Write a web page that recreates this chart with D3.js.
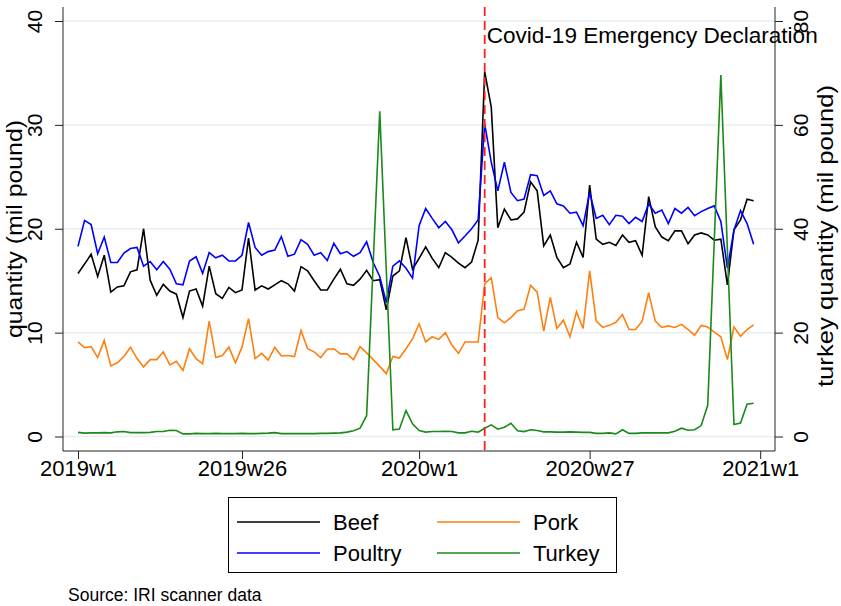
<!DOCTYPE html>
<html><head><meta charset="utf-8">
<script src="https://cdn.jsdelivr.net/npm/d3@7"></script>
<style>
body{margin:0;background:#fff;}
text{font-family:"Liberation Sans",Arial,sans-serif;fill:#000;}
</style>
</head><body>
<svg id="c" width="841" height="606"></svg>
<script>
// ---- data ----
const weekLabels = d3.range(104).map(i => i < 52 ? "2019w" + (i + 1) : "2020w" + (i - 51));
const xTickLabels = ["2019w1", "2019w26", "2020w1", "2020w27", "2021w1"];
const leftTicks = [0, 10, 20, 30, 40];
const rightTicks = [0, 20, 40, 60, 80];
const covidWeek = "2020w11";
const seriesNames = ["Beef", "Pork", "Poultry", "Turkey"];

const beef = [15.7,16.6,17.55,15.4,17.45,13.9,14.4,14.5,15.85,16.05,20.0,15.05,13.6,14.65,14.0,13.7,11.45,14.0,14.2,12.55,
16.4,13.75,13.3,14.35,13.85,14.1,19.1,14.1,14.5,14.2,14.6,15.0,14.7,14.0,16.35,15.95,15.0,14.1,14.1,15.15,
16.1,14.7,14.55,15.15,16.0,15.0,15.1,12.2,15.45,15.95,19.15,16.1,17.15,18.25,17.15,16.25,17.7,17.25,16.7,16.25,
16.8,18.9,35.1,31.7,20.1,21.9,20.85,20.95,21.6,24.5,23.65,18.35,19.4,17.25,16.25,16.6,18.7,17.25,24.2,19.0,
18.5,18.7,18.4,19.4,18.7,18.85,17.45,23.1,20.2,19.2,18.85,19.8,19.8,18.55,19.4,19.6,19.4,18.9,19.0,14.6,
19.9,20.85,22.85,22.7];

const poultry = [18.3,20.8,20.4,17.6,19.2,16.75,16.75,17.65,18.1,18.2,16.4,16.85,16.05,16.85,16.1,14.7,14.6,16.9,17.3,15.7,
17.7,17.2,17.45,16.9,16.9,17.45,20.6,18.2,17.45,17.8,17.95,19.25,17.35,17.55,18.95,18.5,17.45,17.7,16.95,18.6,
17.6,17.8,17.35,17.7,18.75,16.75,15.4,12.9,16.4,16.9,16.2,15.25,20.3,21.95,21.0,20.1,20.7,19.9,18.65,19.3,
20.0,20.85,30.1,26.4,23.65,26.4,23.5,22.7,22.85,25.2,25.1,23.2,23.65,22.4,22.2,21.5,21.6,20.3,23.5,21.0,
21.3,20.4,21.3,21.2,20.5,21.1,20.7,22.4,21.5,21.8,20.5,21.95,21.5,22.05,21.25,21.65,21.95,22.2,20.7,16.2,
19.85,21.75,20.5,18.5];

const pork = [9.1,8.55,8.65,7.6,9.25,6.8,7.1,7.7,8.6,7.5,6.7,7.4,7.4,8.15,6.9,7.25,6.35,8.45,7.5,7.0,
11.1,7.6,7.8,8.6,7.1,8.6,11.35,7.5,8.0,7.35,8.6,7.75,7.8,7.7,10.2,8.45,8.15,7.6,8.4,8.45,
7.95,7.95,7.4,8.65,8.05,7.4,6.75,6.05,7.7,7.55,8.45,9.4,10.85,9.1,9.6,9.35,10.0,8.8,8.0,9.1,
9.1,9.1,14.7,15.3,11.45,10.95,11.45,12.1,12.25,14.55,13.9,10.15,13.4,10.4,11.2,9.6,12.0,10.4,15.95,11.1,
10.5,10.7,11.0,11.75,10.3,10.3,11.1,13.85,11.1,10.5,10.65,10.5,10.8,10.3,9.75,10.7,10.55,10.05,9.6,7.4,
10.55,9.65,10.3,10.75];

// turkey (right axis); null = week not reported (line connects across)
const turkey = [0.8,0.65,0.7,0.7,0.75,0.7,0.9,0.95,0.75,0.75,0.75,0.8,0.95,0.95,1.2,1.15,0.5,0.5,0.6,0.55,
0.55,0.6,0.55,0.55,0.55,0.6,0.55,0.55,0.6,0.65,0.75,0.55,0.55,0.55,0.55,0.55,0.55,0.6,0.6,0.65,
0.7,0.85,1.1,1.6,4.0,null,62.6,null,1.3,1.45,5.0,2.45,1.15,0.85,0.95,0.95,1.0,0.95,0.7,0.7,
1.0,0.85,1.6,2.25,1.4,1.8,2.55,1.1,0.95,1.3,1.15,0.9,0.9,0.85,0.85,0.9,0.85,0.8,0.8,0.6,
0.6,0.7,0.5,1.3,0.6,0.6,0.7,0.7,0.7,0.7,0.7,1.0,1.6,1.2,1.3,2.1,6.0,null,69.6,null,
2.3,2.6,6.2,6.4];

const seriesColors = {Beef: "#000000", Pork: "#ff7f0e", Poultry: "#0000ff", Turkey: "#1a8a1a"};

// ---- helpers ----
function weekIndex(lbl) {
  const m = lbl.match(/(\d+)w(\d+)/);
  return (+m[1] - 2019) * 52 + (+m[2] - 1);
}

const svg = d3.select("#c");
const L = 63, R = 775, T = 7, B = 451;

const x = d3.scaleLinear().domain([0, 104]).range([78, 760.2]);
const yL = d3.scaleLinear().domain([0, 40]).range([436.5, 21]);
const yR = d3.scaleLinear().domain([0, 80]).range([436.5, 21]);

// gridlines
svg.append("g").selectAll("line").data(leftTicks).join("line")
  .attr("x1", L).attr("x2", R)
  .attr("y1", d => yL(d)).attr("y2", d => yL(d))
  .attr("stroke", "#e5eef1").attr("stroke-width", 1.5);

// series lines
const dataMap = {Beef: beef, Pork: pork, Poultry: poultry, Turkey: turkey};
const drawOrder = ["Beef", "Poultry", "Pork", "Turkey"];
drawOrder.forEach(name => {
  const ys = name === "Turkey" ? yR : yL;
  const pts = dataMap[name].map((v, i) => [i, v]).filter(p => p[1] !== null);
  svg.append("path")
    .attr("d", d3.line().x(p => x(p[0])).y(p => ys(p[1]))(pts))
    .attr("fill", "none").attr("stroke", seriesColors[name])
    .attr("stroke-width", 1.6).attr("stroke-linejoin", "miter");
});

// covid line
const cx = x(weekIndex(covidWeek));
svg.append("line").attr("x1", cx).attr("x2", cx).attr("y1", T).attr("y2", B)
  .attr("stroke", "#ff2020").attr("stroke-width", 1.8).attr("stroke-dasharray", "9,5");
svg.append("text").attr("x", cx + 2).attr("y", 43).style("font-size", "21.5px")
  .attr("textLength", 331).attr("lengthAdjust", "spacingAndGlyphs")
  .text("Covid-19 Emergency Declaration");

// axes
const axisStyle = g => { g.select(".domain").remove(); g.selectAll("line").attr("stroke", "#222"); };

const gl = svg.append("g").attr("transform", `translate(${L},0)`)
  .call(d3.axisLeft(yL).tickValues(leftTicks).tickSize(8).tickFormat(d3.format("d")));
axisStyle(gl);
gl.selectAll("text").attr("transform", "rotate(-90)").attr("x", 0).attr("y", -21)
  .attr("dy", 0).attr("text-anchor", "middle").style("font-size", "21px");

const gr = svg.append("g").attr("transform", `translate(${R},0)`)
  .call(d3.axisRight(yR).tickValues(rightTicks).tickSize(8).tickFormat(d3.format("d")));
axisStyle(gr);
gr.selectAll("text").attr("transform", "rotate(-90)").attr("x", 0).attr("y", 33)
  .attr("dy", 0).attr("text-anchor", "middle").style("font-size", "21px");

const gb = svg.append("g").attr("transform", `translate(0,${B})`)
  .call(d3.axisBottom(x).tickValues(xTickLabels.map(weekIndex)).tickSize(8)
    .tickFormat((d, i) => xTickLabels[i]));
axisStyle(gb);
gb.selectAll("text").attr("y", 0).attr("dy", 25).style("font-size", "22px");

// axis lines
svg.append("line").attr("x1", L).attr("x2", L).attr("y1", T).attr("y2", B).attr("stroke", "#222");
svg.append("line").attr("x1", R).attr("x2", R).attr("y1", T).attr("y2", B).attr("stroke", "#222");
svg.append("line").attr("x1", L).attr("x2", R).attr("y1", B).attr("y2", B).attr("stroke", "#222");

// axis titles
svg.append("text").attr("transform", "translate(22,229) rotate(-90)")
  .attr("text-anchor", "middle").style("font-size", "22px")
  .attr("textLength", 218).attr("lengthAdjust", "spacingAndGlyphs").text("quantity (mil pound)");
svg.append("text").attr("transform", "translate(833,236) rotate(-90)")
  .attr("text-anchor", "middle").style("font-size", "22px")
  .attr("textLength", 302).attr("lengthAdjust", "spacingAndGlyphs").text("turkey quantity (mil pound)");

// legend
const lg = svg.append("g");
lg.append("rect").attr("x", 228.5).attr("y", 497.5).attr("width", 388).attr("height", 75)
  .attr("fill", "#fff").attr("stroke", "#000").attr("stroke-width", 1);
const legendPos = {Beef: [237, 522], Pork: [437, 522], Poultry: [237, 553], Turkey: [437, 553]};
seriesNames.forEach(name => {
  const [lx, ly] = legendPos[name];
  lg.append("line").attr("x1", lx).attr("x2", lx + 83).attr("y1", ly).attr("y2", ly)
    .attr("stroke", seriesColors[name]).attr("stroke-width", 1.6);
  lg.append("text").attr("x", lx + 96).attr("y", ly + 8).style("font-size", "22px").text(name);
});

svg.append("text").attr("x", 68).attr("y", 601).style("font-size", "17.5px").text("Source: IRI scanner data");
</script>
</body></html>
